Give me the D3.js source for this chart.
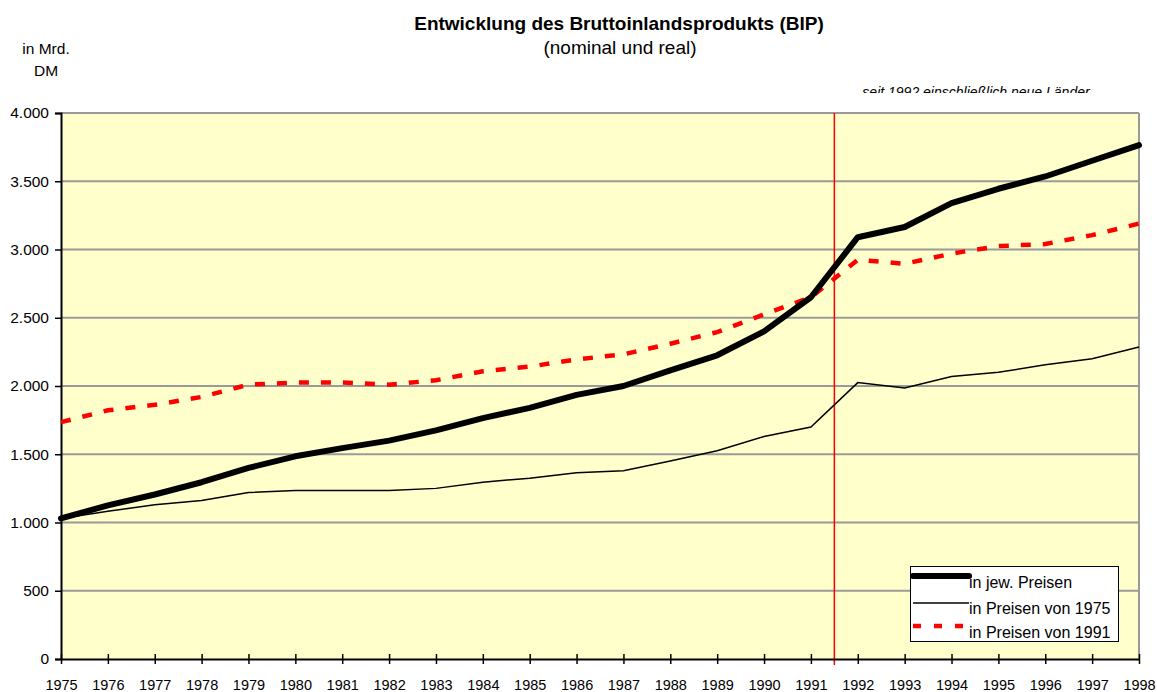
<!DOCTYPE html>
<html><head><meta charset="utf-8">
<script src="https://cdn.jsdelivr.net/npm/d3@7"></script>
<style>body{margin:0;background:#fff}svg{display:block;font-family:"Liberation Sans",Arial,sans-serif}</style>
</head><body><svg id="c" width="1157" height="692"></svg>
<script>
const years = d3.range(1975, 1999);
const nominal = [1030,1125,1205,1295,1400,1485,1545,1600,1675,1765,1840,1935,2000,2115,2225,2400,2650,3090,3165,3340,3445,3535,3650,3765];
const real1975 = [1030,1082,1130,1162,1220,1235,1235,1235,1250,1295,1325,1365,1380,1450,1525,1630,1700,2025,1985,2070,2100,2155,2200,2285];
const real1991 = [1735,1822,1862,1920,2010,2025,2025,2010,2042,2108,2142,2195,2232,2310,2395,2525,2650,2925,2895,2970,3025,3040,3105,3190];
const yTicks = [0,500,1000,1500,2000,2500,3000,3500,4000];
const seriesNames = ["in jew. Preisen","in Preisen von 1975","in Preisen von 1991"];
const fmt = v => v === 0 ? "0" : d3.format(",")(v).replace(/,/g, ".");

const svg = d3.select("#c");
const L = 61, R = 1139, T = 113, B = 659;
const x = d3.scaleLinear().domain([1975, 1998]).range([L, R]);
const y = d3.scaleLinear().domain([0, 4000]).range([B, T]);

svg.append("rect").attr("x", L).attr("y", T).attr("width", R - L).attr("height", B - T).attr("fill", "#FFFFCC");

// gridlines
svg.append("g").selectAll("line").data(yTicks.filter(d => d > 0)).join("line")
  .attr("x1", L).attr("x2", R).attr("y1", d => y(d)).attr("y2", d => y(d))
  .attr("stroke", "#9a9a9a").attr("stroke-width", 2);
svg.append("line").attr("x1", R).attr("x2", R).attr("y1", T).attr("y2", B).attr("stroke", "#9a9a9a").attr("stroke-width", 2);

// red divider
svg.append("line").attr("x1", x(1991.5)).attr("x2", x(1991.5)).attr("y1", T).attr("y2", B + 6)
  .attr("stroke", "#ff0000").attr("stroke-width", 1.5);

// axes
const ya = svg.append("g").attr("transform", `translate(${L},0)`)
  .call(d3.axisLeft(y).tickValues(yTicks).tickFormat(fmt).tickSize(6).tickPadding(6));
ya.select(".domain").attr("stroke", "#000").attr("stroke-width", 2);
ya.selectAll(".tick line").attr("stroke-width", 1.5);
ya.selectAll("text").attr("font-size", 15.5).attr("fill", "#000").attr("font-family", "Liberation Sans, Arial, sans-serif");

const xa = svg.append("g").attr("transform", `translate(0,${B})`)
  .call(d3.axisBottom(x).tickValues(years).tickFormat(d => d).tickSizeInner(5).tickSizeOuter(0).tickPadding(16));
xa.select(".domain").attr("stroke", "#000").attr("stroke-width", 2);
xa.selectAll(".tick line").attr("y1", -5).attr("stroke-width", 1.5);
xa.selectAll("text").attr("font-size", 14.5).attr("fill", "#000").attr("font-family", "Liberation Sans, Arial, sans-serif");

// lines
const line = d3.line().x((d, i) => x(years[i])).y(d => y(d));
svg.append("path").datum(real1991).attr("d", line).attr("fill", "none")
  .attr("stroke", "#ff0000").attr("stroke-width", 4.5).attr("stroke-dasharray", "10,12");
svg.append("path").datum(real1975).attr("d", line).attr("fill", "none")
  .attr("stroke", "#000").attr("stroke-width", 1.5);
svg.append("path").datum(nominal).attr("d", line).attr("fill", "none")
  .attr("stroke", "#000").attr("stroke-width", 6).attr("stroke-linecap", "round").attr("stroke-linejoin", "round");

// titles
svg.append("text").attr("x", 619).attr("y", 30).attr("text-anchor", "middle")
  .attr("font-size", 19).attr("font-weight", "bold").text("Entwicklung des Bruttoinlandsprodukts (BIP)");
svg.append("text").attr("x", 620).attr("y", 54).attr("text-anchor", "middle")
  .attr("font-size", 19).text("(nominal und real)");
svg.append("text").attr("x", 46).attr("y", 54).attr("text-anchor", "middle").attr("font-size", 15.5).text("in Mrd.");
svg.append("text").attr("x", 46).attr("y", 76).attr("text-anchor", "middle").attr("font-size", 15.5).text("DM");

svg.append("clipPath").attr("id", "cl").append("rect").attr("x", 800).attr("y", 70).attr("width", 357).attr("height", 23);
svg.append("text").attr("clip-path", "url(#cl)").attr("x", 976).attr("y", 97).attr("text-anchor", "middle")
  .attr("font-size", 14).attr("font-style", "italic").text("seit 1992 einschließlich neue Länder");

// legend
const lg = svg.append("g");
lg.append("rect").attr("x", 910.5).attr("y", 566.5).attr("width", 208).attr("height", 75)
  .attr("fill", "#fff").attr("stroke", "#000").attr("stroke-width", 1);
const styles = [
  {w: 6, c: "#000", dash: null, cap: "round"},
  {w: 1.5, c: "#000", dash: null, cap: "butt"},
  {w: 4.5, c: "#ff0000", dash: "8,13", cap: "butt"}];
const ly = [576, 603, 626];
const ty = [588, 614, 638];
seriesNames.forEach((n, i) => {
  lg.append("line").attr("x1", 913).attr("x2", 969).attr("y1", ly[i]).attr("y2", ly[i])
    .attr("stroke", styles[i].c).attr("stroke-width", styles[i].w)
    .attr("stroke-dasharray", styles[i].dash).attr("stroke-linecap", styles[i].cap);
  lg.append("text").attr("x", 969).attr("y", ty[i]).attr("font-size", 16).text(n);
});
</script></body></html>
